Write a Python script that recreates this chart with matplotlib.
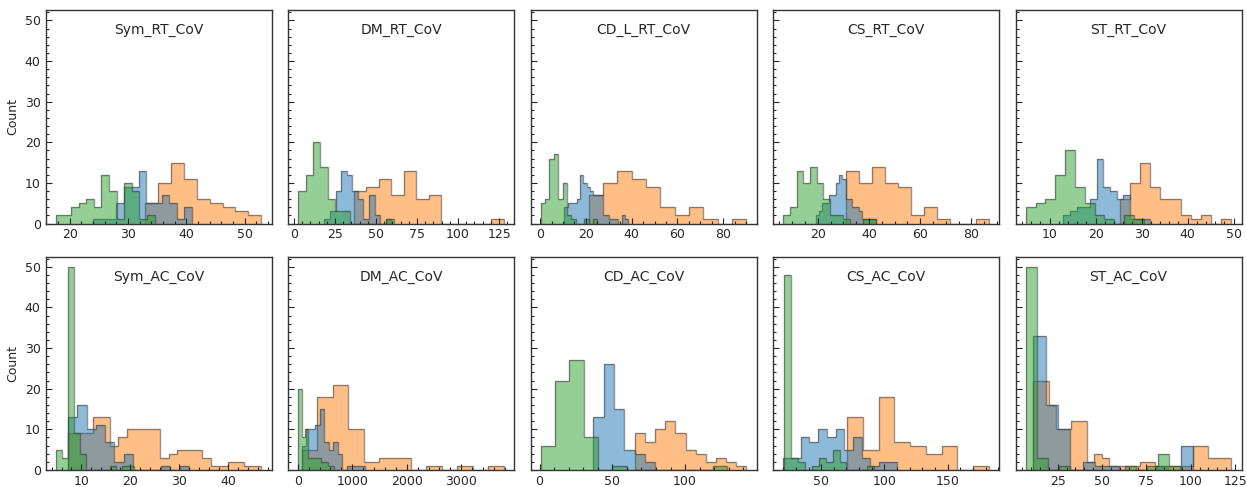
import numpy as np
import matplotlib
matplotlib.use("Agg")
import matplotlib.pyplot as plt
from matplotlib.ticker import AutoMinorLocator, MultipleLocator

titles = ["Sym_RT_CoV", "DM_RT_CoV", "CD_L_RT_CoV", "CS_RT_CoV", "ST_RT_CoV",
          "Sym_AC_CoV", "DM_AC_CoV", "CD_AC_CoV", "CS_AC_CoV", "ST_AC_CoV"]

# histogram bins per panel: first edge, bin width, counts
blue_start = [24.05, 18.5, 10.6, 19.2, 13.0, 7.27, 78, 36.9, 20.0, 11.3]
blue_width = [1.3, 3.4, 1.39, 1.3, 1.45, 1.9, 82, 7.1, 6.9, 6.92]
blue_counts = [
    [1, 1, 1, 5, 9, 9, 13, 5, 5, 7, 5, 1, 4],
    [1, 3, 8, 13, 12, 8, 6, 1, 7, 2, 0, 1],
    [4, 5, 5, 5, 6, 12, 10, 9, 8, 7, 7, 7, 2, 2, 1, 1, 1, 0, 2, 1],
    [2, 3, 5, 5, 7, 7, 10, 12, 11, 6, 6, 4, 4, 3, 1, 1, 1, 1],
    [2, 3, 4, 4, 6, 16, 9, 8, 6, 7, 1, 1, 1],
    [13, 16, 10, 11, 7, 2, 4, 0, 0, 0, 1, 0, 1],
    [6, 10, 10, 11, 15, 7, 5, 7, 4, 0, 1, 1, 1, 1],
    [13, 26, 15, 5, 4, 2],
    [3, 3, 8, 7, 10, 8, 10, 5, 8, 3, 1, 2, 2],
    [33, 16, 10, 0, 2, 1, 1, 0, 0, 0, 1, 0, 6],
]

orange_start = [32.97, 36.4, 21.3, 31.0, 25.3, 7.27, 75, 65.5, 70.5, 11.3]
orange_width = [2.205, 7.62, 6.25, 5.07, 2.2, 1.715, 285, 6.96, 12.45, 4.29]
orange_counts = [
    [5, 10, 15, 11, 6, 5, 4, 3, 2],
    [8, 9, 11, 7, 13, 6, 7, 0, 0, 0, 0, 1],
    [7, 10, 13, 11, 9, 4, 2, 4, 1, 0, 1],
    [13, 10, 14, 10, 9, 2, 4, 1, 0, 0, 1],
    [6, 10, 15, 9, 6, 6, 2, 1, 2, 0, 1],
    [9, 9, 9, 13, 13, 6, 8, 10, 10, 10, 10, 3, 4, 5, 5, 5, 3, 1, 1, 2, 2, 1, 1],
    [5, 18, 21, 10, 2, 3, 3, 0, 1, 0, 1, 0, 1],
    [9, 7, 10, 12, 9, 5, 4, 2, 3, 2, 1],
    [13, 5, 18, 7, 6, 4, 6, 0, 1],
    [22, 22, 16, 10, 10, 12, 12, 2, 4, 3, 1, 1, 1, 1, 2, 2, 1, 1, 1, 1, 1,
     6, 6, 3, 3, 3],
]

green_start = [17.64, 2.6, 0.3, 6.5, 4.8, 4.8, 10, 0.8, 20.5, 7.0]
green_width = [1.3, 4.47, 1.9, 2.6, 2.14, 1.22, 60, 9.86, 5.5, 6.2]
green_counts = [
    [2, 2, 4, 5, 6, 4, 12, 8, 1, 10, 8, 1, 2],
    [8, 12, 20, 14, 6, 3, 3, 0, 0, 0, 0, 0, 1],
    [5, 6, 16, 17, 6, 10, 2, 1, 0, 0, 1, 0, 1],
    [2, 4, 13, 10, 14, 10, 6, 2, 2, 1, 0, 0, 1, 1],
    [4, 5, 6, 12, 18, 9, 5, 2, 1, 0, 2, 1],
    [5, 3, 50, 9, 4, 0, 0, 0, 0, 1, 0, 1, 1],
    [20, 8, 10, 3, 3, 3, 3, 2, 2, 1, 1],
    [6, 22, 27, 8, 0, 1, 0, 0, 0, 0, 0, 0, 1],
    [48, 3, 2, 0, 1, 3, 2, 5, 2, 0, 0, 0, 1],
    [50, 3, 0, 1, 0, 0, 0, 0, 0, 1, 0, 1, 4, 1],
]

BLUE, ORANGE, GREEN = "#1f77b4", "#ff7f0e", "#2ca02c"
EDGE = "#3a3a3a"
TXT = "#262626"


def draw(ax, start, width, counts, color):
    counts = np.asarray(counts, dtype=float)
    edges = start + width * np.arange(len(counts) + 1)
    ax.stairs(counts, edges, fill=True, facecolor=color, alpha=0.5,
              linewidth=0, baseline=0)
    ax.stairs(counts, edges, fill=False, color=EDGE, alpha=0.55,
              linewidth=1.0, baseline=0)


fig, axes = plt.subplots(2, 5, figsize=(12.47, 4.87), dpi=100, sharey=True)
plt.subplots_adjust(left=0.0365, right=0.9956, top=0.979, bottom=0.035,
                    wspace=0.073, hspace=0.155)

for i, ax in enumerate(axes.flat):
    draw(ax, orange_start[i], orange_width[i], orange_counts[i], ORANGE)
    draw(ax, blue_start[i], blue_width[i], blue_counts[i], BLUE)
    draw(ax, green_start[i], green_width[i], green_counts[i], GREEN)
    ax.text(0.5, 0.905, titles[i], transform=ax.transAxes, ha="center",
            va="center", fontsize=10, color=TXT)
    ax.set_ylim(0, 52.5)
    ax.yaxis.set_major_locator(MultipleLocator(10))
    ax.yaxis.set_minor_locator(MultipleLocator(2))
    ax.xaxis.set_minor_locator(AutoMinorLocator())
    ax.tick_params(which="both", direction="in", colors=TXT, labelsize=9,
                   width=0.8)
    ax.tick_params(which="major", length=4)
    ax.tick_params(which="minor", length=2)
    for s in ax.spines.values():
        s.set_color("#333333")
        s.set_linewidth(1.0)

for r in range(2):
    axes[r, 0].set_ylabel("Count", fontsize=9, color=TXT)

fig.savefig("out.png", dpi=100)
